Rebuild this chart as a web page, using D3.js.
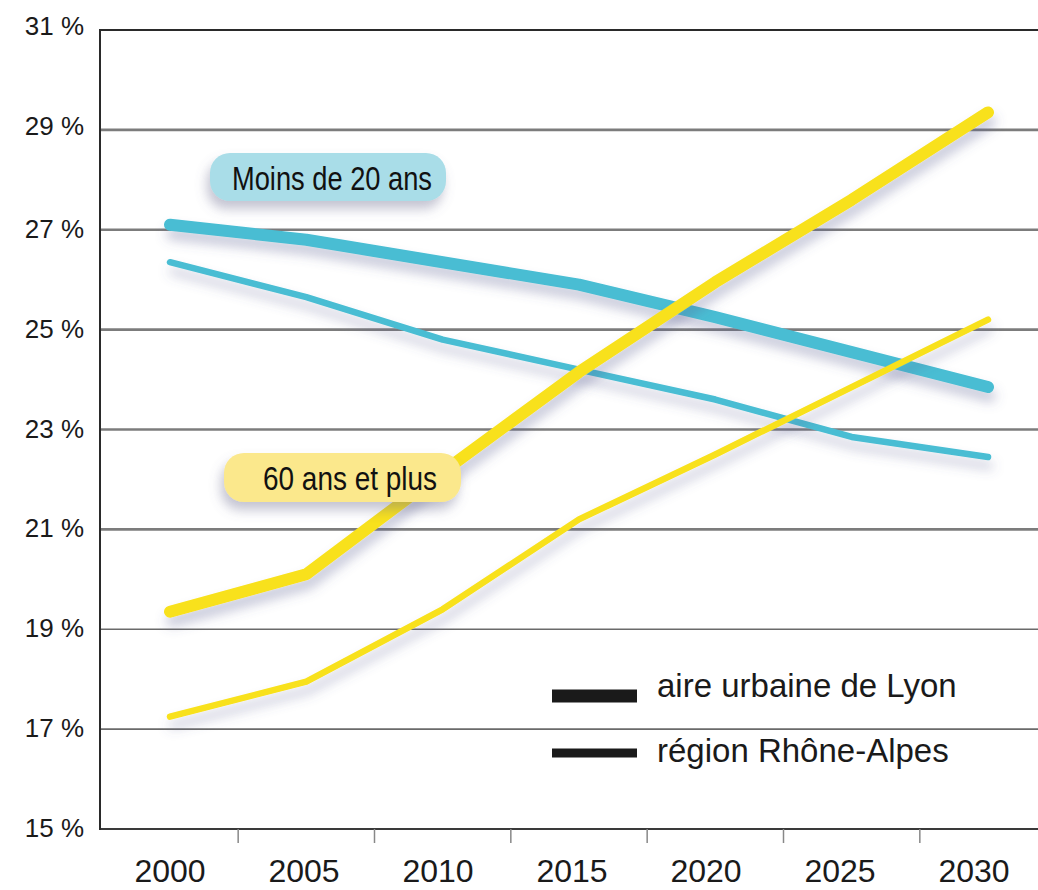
<!DOCTYPE html>
<html><head><meta charset="utf-8">
<script src="https://cdn.jsdelivr.net/npm/d3@7"></script>
<style>html,body{margin:0;padding:0;background:#fff;}svg{display:block;}</style>
</head><body>
<script>
const years = [2000, 2005, 2010, 2015, 2020, 2025, 2030];
const lyonYoung = [27.1, 26.8, 26.35, 25.9, 25.25, 24.55, 23.85];
const raYoung   = [26.35, 25.65, 24.8, 24.2, 23.6, 22.85, 22.45];
const lyonOld   = [19.35, 20.1, 22.15, 24.15, 25.95, 27.6, 29.35];
const raOld     = [17.25, 17.95, 19.4, 21.2, 22.5, 23.85, 25.2];
const yTicks = [15, 17, 19, 21, 23, 25, 27, 29, 31];
const legendLabels = ["aire urbaine de Lyon", "région Rhône-Alpes"];
const groupLabels = ["Moins de 20 ans", "60 ans et plus"];

const W = 1038, H = 890;
const svg = d3.select("body").append("svg").attr("width", W).attr("height", H);
const defs = svg.append("defs");
const f = defs.append("filter").attr("id","sh").attr("x","-20%").attr("y","-50%").attr("width","140%").attr("height","220%");
f.append("feDropShadow").attr("dx",2).attr("dy",9).attr("stdDeviation",6).attr("flood-color","#5a6090").attr("flood-opacity",0.35);
const f2 = defs.append("filter").attr("id","sh2").attr("x","-20%").attr("y","-50%").attr("width","140%").attr("height","220%");
f2.append("feDropShadow").attr("dx",-3).attr("dy",8).attr("stdDeviation",6).attr("flood-color","#6a6a90").attr("flood-opacity",0.4);

const x = d3.scaleLinear().domain([2000, 2030]).range([170, 988]);
const xb = d3.scaleBand().domain(years).range([103, 1041]);
const y = d3.scaleLinear().domain([15, 31]).range([829, 30]);

const left = 100, right = 1038;

// gridlines
svg.append("g").selectAll("line").data(yTicks.filter(v => v > 15 && v < 31)).join("line")
  .attr("x1", left).attr("x2", right)
  .attr("y1", d => y(d)).attr("y2", d => y(d))
  .attr("stroke", d => d >= 21 ? "#7c7c7c" : "#6a6a6a")
  .attr("stroke-width", d => d >= 21 ? 2.6 : 1.7);
svg.append("line").attr("x1", left).attr("x2", right).attr("y1", y(31)).attr("y2", y(31)).attr("stroke", "#2a2a2a").attr("stroke-width", 2);
svg.append("line").attr("x1", left).attr("x2", right).attr("y1", y(15)).attr("y2", y(15)).attr("stroke", "#3a3a3a").attr("stroke-width", 2.2);
svg.append("line").attr("x1", left).attr("x2", left).attr("y1", y(31)-1).attr("y2", y(15)+1).attr("stroke", "#2a2a2a").attr("stroke-width", 2);

// x ticks at midpoints
svg.append("g").selectAll("line").data(years.slice(0, -1)).join("line")
  .attr("x1", d => x(d + 2.5)).attr("x2", d => x(d + 2.5))
  .attr("y1", y(15)).attr("y2", y(15) + 14)
  .attr("stroke", "#888").attr("stroke-width", 1.5);

// y labels
svg.append("g").selectAll("text").data(yTicks).join("text")
  .attr("x", 84).attr("y", d => y(d) + (d >= 29 ? -4 : -1))
  .attr("text-anchor", "end").attr("dominant-baseline", "central")
  .attr("font-family", "Liberation Sans, Arial, sans-serif").attr("font-size", 26)
  .attr("fill", "#1a1a1a").text(d => d + " %");

// x labels
svg.append("g").selectAll("text").data(years).join("text")
  .attr("x", d => xb(d) + xb.bandwidth() / 2).attr("y", 882)
  .attr("text-anchor", "middle")
  .attr("font-family", "Liberation Sans, Arial, sans-serif").attr("font-size", 32)
  .attr("fill", "#1a1a1a").text(d => d);

const line = d3.line().x((d, i) => x(years[i])).y(d => y(d)).curve(d3.curveLinear);
const series = [
  {v: raYoung, c: "#49bdd3", w: 6.5},
  {v: lyonYoung, c: "#49bdd3", w: 12},
  {v: raOld, c: "#f8e11c", w: 6.5},
  {v: lyonOld, c: "#f8e11c", w: 12},
];
svg.append("g").selectAll("path").data(series).join("path")
  .attr("d", d => line(d.v)).attr("fill", "none")
  .attr("stroke", d => d.c).attr("stroke-width", d => d.w)
  .attr("stroke-linecap", "round").attr("stroke-linejoin", "round")
  .attr("filter", "url(#sh)");

// group label pills
const pills = [
  {t: groupLabels[0], x: 210, y: 153, w: 236, h: 48, fill: "#a9dde8", tx: 232, tl: 200, by: 190},
  {t: groupLabels[1], x: 224, y: 453, w: 237, h: 49, fill: "#fbe88c", tx: 263, tl: 174, by: 490},
];
const pg = svg.append("g").selectAll("g").data(pills).join("g");
pg.append("rect").attr("x", d => d.x).attr("y", d => d.y).attr("width", d => d.w).attr("height", d => d.h)
  .attr("rx", 20).attr("fill", d => d.fill).attr("filter", "url(#sh2)");
pg.append("text").attr("x", d => d.tx).attr("y", d => d.by)
  .attr("font-family", "Liberation Sans, Arial, sans-serif").attr("font-size", 33)
  .attr("textLength", d => d.tl).attr("lengthAdjust", "spacingAndGlyphs")
  .attr("fill", "#111").text(d => d.t);

// legend
const lg = svg.append("g");
const legendItems = [{t: legendLabels[0], h: 13, cy: 696, by: 697}, {t: legendLabels[1], h: 9, cy: 753, by: 762}];
lg.selectAll("rect").data(legendItems).join("rect")
  .attr("x", 552).attr("y", d => d.cy - d.h / 2).attr("width", 85).attr("height", d => d.h).attr("fill", "#1a1a1a");
lg.selectAll("text").data(legendItems).join("text")
  .attr("x", 657).attr("y", d => d.by)
  .attr("font-family", "Liberation Sans, Arial, sans-serif").attr("font-size", 33)
  .attr("fill", "#1a1a1a").text(d => d.t);
</script>
</body></html>
